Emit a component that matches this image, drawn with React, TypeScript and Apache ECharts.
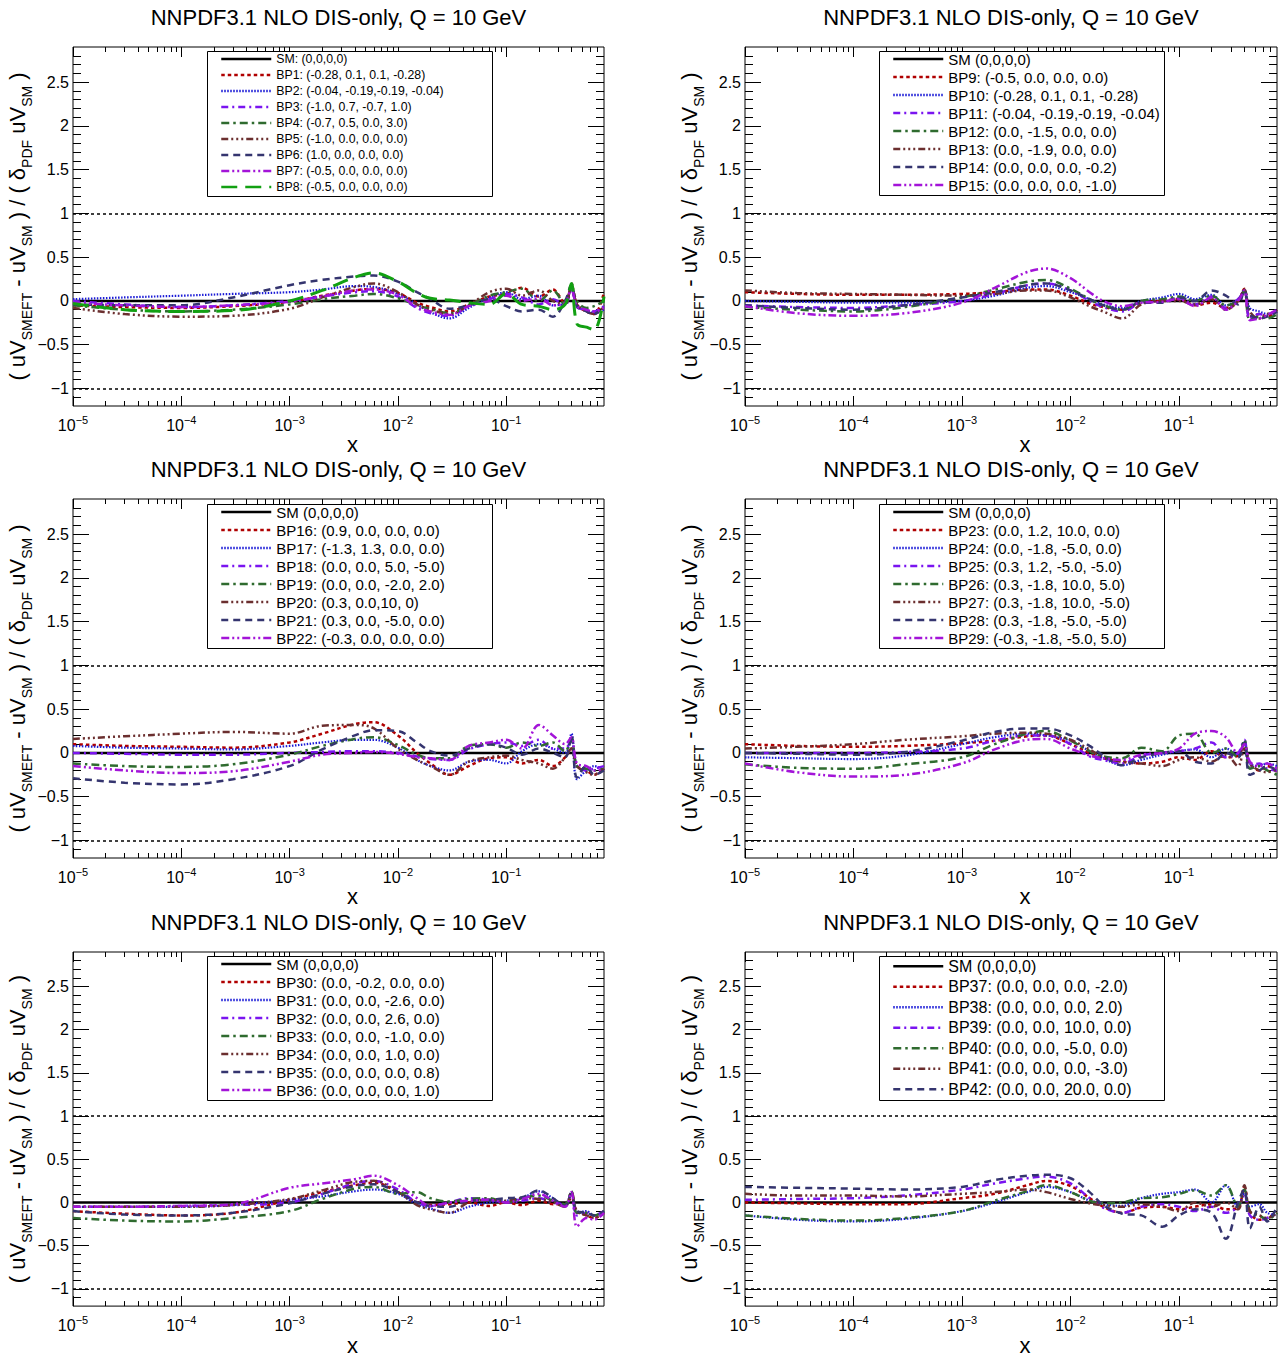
import React, { useEffect, useRef } from "react";
import * as echarts from "echarts";

const FONT = "'Liberation Sans', Arial, Helvetica, sans-serif";

// ---------- data ----------
const X_VALUES = [1e-5, 3e-5, 1e-4, 3e-4, 1e-3, 2e-3, 4e-3, 6e-3, 1e-2, 1.5e-2, 2e-2, 3e-2, 4.5e-2, 7e-2, 0.1, 0.14, 0.2, 0.27, 0.35, 0.4, 0.45, 0.55, 0.65, 0.8];
const X_MIN = 1e-5;
const X_MAX = 0.8;
const Y_MIN = -1.2;
const Y_MAX = 2.9;
const X_DECADES = [-5, -4, -3, -2, -1];
const Y_MAJOR = [-1, -0.5, 0, 0.5, 1, 1.5, 2, 2.5];
const REF_LINES = [1, -1];
const TITLE = "NNPDF3.1 NLO DIS-only, Q = 10 GeV";

const SM_VALUES = [0, 0, 0, 0, 0, 0, 0, 0, 0, 0, 0, 0, 0, 0, 0, 0, 0, 0, 0, 0, 0, 0, 0, 0];

const P1_LABELS = ["SM: (0,0,0,0)", "BP1: (-0.28, 0.1, 0.1, -0.28)", "BP2: (-0.04, -0.19,-0.19, -0.04)", "BP3: (-1.0, 0.7, -0.7, 1.0)", "BP4: (-0.7, 0.5, 0.0, 3.0)", "BP5: (-1.0, 0.0, 0.0, 0.0)", "BP6: (1.0, 0.0, 0.0, 0.0)", "BP7: (-0.5, 0.0, 0.0, 0.0)", "BP8: (-0.5, 0.0, 0.0, 0.0)"];
const P1_BP1 = [-0.05, -0.07, -0.08, -0.06, -0.01, 0.06, 0.12, 0.14, 0.09, -0.02, -0.07, -0.12, -0.04, 0.05, 0.08, 0.15, 0.05, 0.13, -0.03, 0.18, -0.04, -0.12, -0.15, 0.1];
const P1_BP2 = [0.02, 0.04, 0.06, 0.08, 0.1, 0.13, 0.17, 0.16, 0.08, -0.04, -0.13, -0.2, -0.08, 0.04, 0.1, 0.02, 0.06, -0.05, -0.02, 0.14, -0.05, -0.1, -0.14, -0.1];
const P1_BP3 = [0.0, -0.04, -0.07, -0.05, 0.0, 0.05, 0.1, 0.11, 0.05, -0.08, -0.14, -0.17, -0.06, 0.02, 0.08, 0.04, -0.04, 0.02, -0.05, 0.14, -0.07, -0.1, -0.12, -0.06];
const P1_BP4 = [-0.05, -0.1, -0.12, -0.1, -0.04, 0.02, 0.06, 0.08, 0.03, -0.05, -0.09, -0.14, -0.05, 0.06, 0.1, 0.14, 0.0, 0.12, -0.04, 0.15, 0.0, -0.08, -0.06, 0.0];
const P1_BP5 = [-0.08, -0.15, -0.18, -0.17, -0.09, 0.04, 0.16, 0.2, 0.1, -0.04, -0.1, -0.15, -0.05, 0.1, 0.14, 0.06, 0.12, 0.0, -0.04, 0.2, -0.04, -0.12, -0.15, -0.06];
const P1_BP6 = [-0.04, -0.05, -0.05, 0.04, 0.18, 0.24, 0.28, 0.29, 0.22, 0.1, 0.02, -0.09, -0.05, 0.02, -0.06, -0.12, -0.1, -0.18, 0.0, 0.18, -0.06, -0.12, -0.15, -0.05];
const P1_BP7 = [-0.02, -0.05, -0.07, -0.05, -0.01, 0.05, 0.12, 0.13, 0.07, -0.07, -0.12, -0.16, -0.06, 0.0, 0.06, 0.0, 0.03, -0.05, -0.02, 0.14, -0.06, -0.1, -0.12, -0.08];
const P1_BP8 = [-0.03, -0.1, -0.12, -0.11, 0.0, 0.12, 0.27, 0.32, 0.22, 0.09, 0.03, 0.01, -0.02, -0.04, 0.08, -0.04, -0.06, -0.1, -0.04, 0.2, -0.26, -0.3, -0.33, 0.05];

const P2_LABELS = ["SM (0,0,0,0)", "BP9: (-0.5, 0.0, 0.0, 0.0)", "BP10: (-0.28, 0.1, 0.1, -0.28)", "BP11: (-0.04, -0.19,-0.19, -0.04)", "BP12: (0.0, -1.5, 0.0, 0.0)", "BP13: (0.0, -1.9, 0.0, 0.0)", "BP14: (0.0, 0.0, 0.0, -0.2)", "BP15: (0.0, 0.0, 0.0, -1.0)"];
const P2_BP9 = [0.1, 0.08, 0.07, 0.07, 0.08, 0.1, 0.13, 0.13, 0.06, -0.03, -0.07, -0.1, -0.02, 0.0, 0.02, -0.05, -0.02, -0.08, 0.0, 0.14, -0.18, -0.15, -0.18, -0.1];
const P2_BP10 = [0.0, -0.01, -0.02, -0.02, 0.0, 0.06, 0.15, 0.17, 0.1, 0.02, -0.04, -0.08, 0.0, 0.04, 0.08, 0.02, 0.07, -0.05, 0.02, 0.12, -0.08, -0.12, -0.15, -0.1];
const P2_BP11 = [-0.05, -0.07, -0.08, -0.05, 0.0, 0.08, 0.18, 0.2, 0.12, 0.0, -0.07, -0.12, -0.02, 0.0, 0.03, -0.04, 0.05, -0.08, 0.02, 0.12, -0.2, -0.15, -0.17, -0.12];
const P2_BP12 = [-0.07, -0.1, -0.12, -0.07, 0.04, 0.13, 0.22, 0.24, 0.14, 0.02, -0.05, -0.1, 0.0, 0.02, 0.05, 0.0, 0.06, -0.05, 0.0, 0.12, -0.22, -0.18, -0.2, -0.15];
const P2_BP13 = [0.12, 0.09, 0.08, 0.07, 0.06, 0.08, 0.12, 0.12, 0.04, -0.06, -0.12, -0.2, -0.04, 0.0, 0.0, -0.04, 0.02, -0.1, 0.0, 0.13, -0.12, -0.2, -0.15, -0.12];
const P2_BP14 = [-0.05, -0.08, -0.1, -0.05, 0.04, 0.1, 0.18, 0.2, 0.12, 0.02, -0.05, -0.1, -0.02, -0.02, 0.04, 0.0, 0.12, 0.06, -0.04, 0.12, -0.15, -0.2, -0.18, -0.12];
const P2_BP15 = [-0.06, -0.14, -0.17, -0.14, -0.02, 0.15, 0.33, 0.37, 0.26, 0.1, 0.0, -0.06, -0.02, -0.01, 0.02, -0.06, 0.04, -0.1, 0.0, 0.12, -0.22, -0.2, -0.16, -0.1];

const P3_LABELS = ["SM (0,0,0,0)", "BP16: (0.9, 0.0, 0.0, 0.0)", "BP17: (-1.3, 1.3, 0.0, 0.0)", "BP18: (0.0, 0.0, 5.0, -5.0)", "BP19: (0.0, 0.0, -2.0, 2.0)", "BP20: (0.3, 0.0,10, 0)", "BP21: (0.3, 0.0, -5.0, 0.0)", "BP22: (-0.3, 0.0, 0.0, 0.0)"];
const P3_BP16 = [0.1, 0.08, 0.07, 0.06, 0.12, 0.22, 0.33, 0.35, 0.2, 0.0, -0.12, -0.25, -0.15, -0.06, -0.05, -0.12, -0.08, -0.15, -0.05, 0.05, -0.15, -0.2, -0.25, -0.15];
const P3_BP17 = [0.08, 0.06, 0.05, 0.04, 0.08, 0.12, 0.15, 0.15, 0.06, -0.08, -0.15, -0.2, -0.1, -0.08, -0.12, 0.02, 0.1, 0.05, 0.0, 0.22, -0.3, -0.2, -0.15, -0.2];
const P3_BP18 = [0.0, -0.01, -0.02, -0.02, 0.0, 0.01, 0.02, 0.02, 0.0, -0.04, -0.07, -0.08, 0.04, 0.1, 0.12, 0.08, 0.15, 0.05, 0.05, 0.15, -0.15, -0.2, -0.18, -0.15];
const P3_BP19 = [-0.12, -0.15, -0.16, -0.13, -0.02, 0.08, 0.16, 0.18, 0.09, -0.02, -0.06, -0.06, 0.08, 0.1, 0.06, 0.12, 0.08, 0.12, 0.02, 0.15, -0.15, -0.18, -0.2, -0.18];
const P3_BP20 = [0.16, 0.19, 0.22, 0.24, 0.22, 0.31, 0.32, 0.28, 0.05, -0.08, -0.15, -0.25, -0.1, -0.05, -0.03, -0.08, -0.12, -0.18, -0.05, 0.05, -0.15, -0.22, -0.25, -0.18];
const P3_BP21 = [-0.29, -0.34, -0.36, -0.3, -0.15, 0.04, 0.2, 0.26, 0.25, 0.12, 0.02, -0.03, 0.05, 0.1, 0.06, -0.02, 0.05, 0.0, -0.05, 0.2, -0.28, -0.15, -0.25, -0.2];
const P3_BP22 = [-0.15, -0.2, -0.23, -0.21, -0.1, -0.02, 0.0, 0.01, -0.01, -0.05, -0.06, -0.08, 0.08, 0.12, 0.15, 0.05, 0.32, 0.2, 0.1, 0.18, -0.12, -0.15, -0.2, -0.18];

const P4_LABELS = ["SM (0,0,0,0)", "BP23: (0.0, 1.2, 10.0, 0.0)", "BP24: (0.0, -1.8, -5.0, 0.0)", "BP25: (0.3, 1.2, -5.0, -5.0)", "BP26: (0.3, -1.8, 10.0, 5.0)", "BP27: (0.3, -1.8, 10.0, -5.0)", "BP28: (0.3, -1.8, -5.0, -5.0)", "BP29: (-0.3, -1.8, -5.0, 5.0)"];
const P4_BP23 = [0.1, 0.08, 0.07, 0.08, 0.11, 0.14, 0.19, 0.2, 0.1, 0.0, -0.06, -0.1, -0.12, -0.1, -0.05, -0.08, 0.02, -0.05, -0.03, 0.1, -0.12, -0.2, -0.15, -0.22];
const P4_BP24 = [-0.05, -0.06, -0.07, -0.03, 0.1, 0.18, 0.22, 0.2, 0.14, 0.02, -0.06, -0.14, -0.08, -0.02, 0.02, 0.04, -0.05, 0.05, -0.02, 0.12, -0.12, -0.15, -0.12, -0.15];
const P4_BP25 = [0.0, 0.0, 0.0, 0.01, 0.05, 0.14, 0.2, 0.2, 0.1, -0.04, -0.08, -0.12, -0.03, 0.0, 0.02, 0.05, 0.12, -0.05, 0.0, 0.15, -0.15, -0.12, -0.18, -0.2];
const P4_BP26 = [-0.13, -0.17, -0.18, -0.13, -0.05, 0.1, 0.22, 0.25, 0.14, 0.02, -0.04, -0.06, 0.06, 0.02, 0.2, 0.22, 0.0, 0.05, -0.05, 0.15, -0.18, -0.15, -0.2, -0.25];
const P4_BP27 = [0.05, 0.07, 0.1, 0.15, 0.19, 0.22, 0.23, 0.22, 0.15, 0.04, -0.05, -0.1, -0.12, -0.15, -0.08, -0.05, -0.1, -0.02, -0.15, 0.05, -0.12, -0.2, -0.22, -0.18];
const P4_BP28 = [0.0, -0.01, -0.02, 0.01, 0.14, 0.24, 0.28, 0.28, 0.2, 0.08, -0.03, -0.14, -0.05, 0.0, 0.02, -0.1, -0.12, 0.0, -0.05, 0.12, -0.25, -0.2, -0.15, -0.2];
const P4_BP29 = [-0.12, -0.22, -0.27, -0.25, -0.12, 0.04, 0.15, 0.16, 0.05, -0.03, -0.06, -0.08, -0.02, 0.0, 0.05, 0.22, 0.25, 0.18, 0.0, 0.1, -0.1, -0.15, -0.12, -0.18];

const P5_LABELS = ["SM (0,0,0,0)", "BP30: (0.0, -0.2, 0.0, 0.0)", "BP31: (0.0, 0.0, -2.6, 0.0)", "BP32: (0.0, 0.0, 2.6, 0.0)", "BP33: (0.0, 0.0, -1.0, 0.0)", "BP34: (0.0, 0.0, 1.0, 0.0)", "BP35: (0.0, 0.0, 0.0, 0.8)", "BP36: (0.0, 0.0, 0.0, 1.0)"];
const P5_BP30 = [-0.1, -0.13, -0.15, -0.12, 0.03, 0.12, 0.2, 0.23, 0.12, 0.0, -0.03, -0.02, 0.0, -0.04, 0.0, -0.03, 0.02, -0.02, -0.02, 0.05, -0.1, -0.15, -0.18, -0.12];
const P5_BP31 = [-0.05, -0.05, -0.05, -0.03, 0.03, 0.07, 0.13, 0.15, 0.1, -0.02, -0.07, -0.12, -0.05, 0.0, 0.02, 0.05, 0.13, 0.05, -0.05, 0.12, -0.12, -0.1, -0.15, -0.12];
const P5_BP32 = [-0.05, -0.05, -0.04, -0.03, 0.0, 0.1, 0.22, 0.25, 0.15, 0.0, -0.04, 0.0, 0.05, 0.03, 0.0, 0.02, 0.05, 0.0, -0.02, 0.1, -0.15, -0.12, -0.15, -0.1];
const P5_BP33 = [-0.18, -0.21, -0.22, -0.18, -0.1, 0.04, 0.16, 0.18, 0.1, 0.12, 0.05, 0.01, 0.04, 0.05, 0.0, 0.05, 0.08, 0.02, -0.02, 0.13, -0.12, -0.12, -0.15, -0.1];
const P5_BP34 = [-0.05, -0.05, -0.05, -0.03, 0.04, 0.14, 0.24, 0.25, 0.12, -0.03, -0.08, -0.12, 0.0, 0.03, 0.02, 0.05, 0.04, 0.0, -0.05, 0.12, -0.1, -0.15, -0.18, -0.12];
const P5_BP35 = [-0.1, -0.14, -0.15, -0.12, -0.01, 0.1, 0.19, 0.21, 0.12, 0.0, -0.04, -0.05, 0.02, 0.03, 0.05, 0.06, 0.14, 0.05, -0.04, 0.1, -0.1, -0.12, -0.15, -0.1];
const P5_BP36 = [-0.05, -0.05, -0.04, -0.02, 0.17, 0.22, 0.27, 0.31, 0.2, 0.05, -0.04, 0.0, 0.02, 0.03, 0.0, 0.04, 0.1, 0.02, -0.05, 0.12, -0.28, -0.18, -0.2, -0.12];

const P6_LABELS = ["SM (0,0,0,0)", "BP37: (0.0, 0.0, 0.0, -2.0)", "BP38: (0.0, 0.0, 0.0, 2.0)", "BP39: (0.0, 0.0, 10.0, 0.0)", "BP40: (0.0, 0.0, -5.0, 0.0)", "BP41: (0.0, 0.0, 0.0, -3.0)", "BP42: (0.0, 0.0, 20.0, 0.0)"];
const P6_BP37 = [0.0, -0.01, -0.02, -0.02, 0.05, 0.1, 0.2, 0.25, 0.19, 0.05, -0.05, -0.12, -0.06, -0.05, -0.08, -0.05, -0.02, -0.08, -0.06, 0.18, -0.12, -0.2, -0.18, -0.12];
const P6_BP38 = [-0.15, -0.2, -0.22, -0.19, -0.1, 0.0, 0.12, 0.18, 0.12, 0.02, -0.02, -0.04, 0.05, 0.1, 0.12, 0.15, 0.0, 0.2, -0.05, 0.1, -0.05, -0.02, -0.12, -0.15];
const P6_BP39 = [0.03, 0.04, 0.05, 0.08, 0.15, 0.22, 0.28, 0.3, 0.22, 0.05, -0.06, -0.12, -0.05, -0.02, -0.05, -0.1, -0.05, -0.12, -0.05, 0.1, -0.15, -0.2, -0.18, -0.1];
const P6_BP40 = [-0.15, -0.19, -0.21, -0.18, -0.1, 0.02, 0.13, 0.2, 0.12, 0.02, -0.01, 0.0, 0.05, 0.06, 0.1, 0.14, 0.08, 0.2, -0.05, 0.15, -0.1, -0.15, -0.2, -0.12];
const P6_BP41 = [0.1, 0.08, 0.08, 0.07, 0.1, 0.12, 0.15, 0.12, 0.04, -0.01, -0.03, -0.05, -0.02, -0.05, -0.1, 0.0, -0.05, 0.0, -0.08, 0.2, -0.1, -0.15, -0.18, -0.12];
const P6_BP42 = [0.18, 0.17, 0.16, 0.15, 0.18, 0.26, 0.31, 0.32, 0.28, 0.12, -0.03, -0.13, -0.15, -0.28, -0.15, -0.08, -0.12, -0.42, 0.0, 0.15, -0.3, -0.05, -0.22, -0.05];

const PANELS = [
  { labels: P1_LABELS, values: [SM_VALUES, P1_BP1, P1_BP2, P1_BP3, P1_BP4, P1_BP5, P1_BP6, P1_BP7, P1_BP8] },
  { labels: P2_LABELS, values: [SM_VALUES, P2_BP9, P2_BP10, P2_BP11, P2_BP12, P2_BP13, P2_BP14, P2_BP15] },
  { labels: P3_LABELS, values: [SM_VALUES, P3_BP16, P3_BP17, P3_BP18, P3_BP19, P3_BP20, P3_BP21, P3_BP22] },
  { labels: P4_LABELS, values: [SM_VALUES, P4_BP23, P4_BP24, P4_BP25, P4_BP26, P4_BP27, P4_BP28, P4_BP29] },
  { labels: P5_LABELS, values: [SM_VALUES, P5_BP30, P5_BP31, P5_BP32, P5_BP33, P5_BP34, P5_BP35, P5_BP36] },
  { labels: P6_LABELS, values: [SM_VALUES, P6_BP37, P6_BP38, P6_BP39, P6_BP40, P6_BP41, P6_BP42] },
];

// ---------- styles / layout ----------
const STYLES = [
  { color: "#000000", width: 2.5, dash: "solid" as any },
  { color: "#b00000", width: 2.5, dash: [3.5, 3] },
  { color: "#1a1ad6", width: 2.2, dash: [1.5, 1.5] },
  { color: "#7a14f0", width: 2.5, dash: [7, 4, 2, 4] },
  { color: "#2f6b2f", width: 2.5, dash: [8, 4, 2.5, 4] },
  { color: "#6b2f2f", width: 2.5, dash: [7, 3, 2, 3, 2, 3, 2, 3] },
  { color: "#35356f", width: 2.5, dash: [7, 5] },
  { color: "#a314d8", width: 2.5, dash: [8, 3, 2, 3, 2, 3] },
  { color: "#12a012", width: 3, dash: [16, 8] },
];

const GRID_LEFT = [73, 745];
const GRID_WIDTH = [531, 532];
const GRID_TOP = [47, 499, 952];
const GRID_HEIGHT = 359;

const LEGENDS = [
  { left: 220, top: 51, spacing: 16, fontSize: 12.3, box: [207, 51, 285, 145] },
  { left: 892, top: 50, spacing: 18, fontSize: 15, box: [879, 51, 285, 144] },
  { left: 220, top: 503, spacing: 18, fontSize: 15, box: [207, 504, 285, 144] },
  { left: 892, top: 503, spacing: 18, fontSize: 15, box: [879, 504, 285, 144] },
  { left: 220, top: 955, spacing: 18, fontSize: 15, box: [207, 956, 285, 144] },
  { left: 892, top: 956, spacing: 20.5, fontSize: 16, box: [879, 956, 285, 144] },
];

const LX_MIN = Math.log10(X_MIN);
const LX_MAX = Math.log10(X_MAX);

const X_MINOR: number[] = [];
X_DECADES.forEach((n) => {
  for (let k = 2; k <= 9; k++) {
    const v = n + Math.log10(k);
    if (v < LX_MAX - 1e-9) X_MINOR.push(v);
  }
});
const Y_MINOR: number[] = [];
for (let k = -11; k <= 28; k++) Y_MINOR.push(k / 10);

const fmtMinus = (v: number) => (v < 0 ? "\u2212" : "") + String(Math.abs(v));

function buildOption() {
  const grid: any[] = [];
  const xAxis: any[] = [];
  const yAxis: any[] = [];
  const series: any[] = [];
  const legend: any[] = [];
  const graphic: any[] = [];

  PANELS.forEach((p, i) => {
    const col = i % 2;
    const row = Math.floor(i / 2);
    const left = GRID_LEFT[col];
    const width = GRID_WIDTH[col];
    const top = GRID_TOP[row];
    grid.push({ left, top, width, height: GRID_HEIGHT, show: true, borderColor: "#000", borderWidth: 1, backgroundColor: "transparent" });
    const xb = xAxis.length;
    const yb = yAxis.length;

    const mkX = (pos: string, ticks: number[], len: number, withLabel: boolean) => ({
      type: "value",
      gridIndex: i,
      position: pos,
      min: LX_MIN,
      max: LX_MAX,
      axisLine: { show: false, onZero: false },
      axisTick: { show: true, inside: true, length: len, customValues: ticks, lineStyle: { color: "#000", width: 1 } },
      axisLabel: withLabel
        ? {
            show: true,
            customValues: X_DECADES,
            margin: 8,
            formatter: (v: number) => {
              const n = Math.round(v);
              return "{b|10}{e|" + fmtMinus(n) + "}";
            },
            rich: {
              b: { fontSize: 16, fontFamily: FONT, color: "#000", lineHeight: 19, verticalAlign: "bottom" },
              e: { fontSize: 11, fontFamily: FONT, color: "#000", lineHeight: 11, verticalAlign: "top" },
            },
          }
        : { show: false },
      splitLine: { show: false },
      name: withLabel ? "x" : "",
      nameLocation: "middle",
      nameGap: 24,
      nameTextStyle: { fontSize: 22, fontFamily: FONT, color: "#000", padding: [0, 0, 0, 28] },
    });
    xAxis.push(mkX("bottom", X_DECADES, 10, true));
    xAxis.push(mkX("bottom", X_MINOR, 5, false));
    xAxis.push(mkX("top", X_DECADES, 10, false));
    xAxis.push(mkX("top", X_MINOR, 5, false));

    const mkY = (pos: string, ticks: number[], len: number, withLabel: boolean) => ({
      type: "value",
      gridIndex: i,
      position: pos,
      min: Y_MIN,
      max: Y_MAX,
      axisLine: { show: false, onZero: false },
      axisTick: { show: true, inside: true, length: len, customValues: ticks, lineStyle: { color: "#000", width: 1 } },
      axisLabel: withLabel
        ? { show: true, customValues: Y_MAJOR, margin: 4, fontSize: 16, fontFamily: FONT, color: "#000", formatter: (v: number) => fmtMinus(v) }
        : { show: false },
      splitLine: { show: false },
      name: withLabel ? "{m|( uV}{s|SMEFT}{m| - uV}{s|SM}{m| ) / ( \u03b4}{s|PDF}{m| uV}{s|SM}{m| )}" : "",
      nameLocation: "middle",
      nameRotate: 90,
      nameGap: 34,
      nameTextStyle: {
        fontSize: 22,
        fontFamily: FONT,
        color: "#000",
        rich: {
          m: { fontSize: 22, fontFamily: FONT, color: "#000", lineHeight: 24, verticalAlign: "top" },
          s: { fontSize: 14, fontFamily: FONT, color: "#000", lineHeight: 14, padding: [13, 0, 0, 0], verticalAlign: "top" },
        },
      },
    });
    yAxis.push(mkY("left", Y_MAJOR, 16, true));
    yAxis.push(mkY("left", Y_MINOR, 8, false));
    yAxis.push(mkY("right", Y_MAJOR, 16, false));
    yAxis.push(mkY("right", Y_MINOR, 8, false));

    p.values.forEach((vals, j) => {
      const st = STYLES[j];
      const s: any = {
        type: "line",
        name: p.labels[j],
        xAxisIndex: xb,
        yAxisIndex: yb,
        data: X_VALUES.map((x, k) => [Math.log10(x), vals[k]]),
        symbol: "none",
        showSymbol: false,
        smooth: j === 0 ? false : 0.35,
        clip: true,
        silent: true,
        lineStyle: { color: st.color, width: st.width, type: st.dash },
        itemStyle: { color: st.color },
        z: 2,
      };
      if (j === 0) {
        s.markLine = {
          silent: true,
          symbol: ["none", "none"],
          label: { show: false },
          lineStyle: { color: "#000", type: [3, 3], width: 1.5 },
          data: REF_LINES.map((v) => ({ yAxis: v })),
        };
      }
      series.push(s);
    });

    const L = LEGENDS[i];
    legend.push({
      orient: "vertical",
      left: L.left,
      top: L.top,
      padding: 0,
      itemGap: 0,
      itemWidth: 50,
      itemHeight: 10,
      selectedMode: false,
      z: 20,
      data: p.labels,
      textStyle: { fontSize: L.fontSize, lineHeight: L.spacing, color: "#000", fontFamily: FONT },
      lineStyle: { width: 2.5 },
      itemStyle: { opacity: 0 },
    });
    graphic.push({
      type: "rect",
      z: 10,
      shape: { x: L.box[0] + 0.5, y: L.box[1] + 0.5, width: L.box[2], height: L.box[3] },
      style: { fill: "#fff", stroke: "#000", lineWidth: 1 },
    });
    graphic.push({
      type: "text",
      z: 10,
      x: left + width / 2,
      y: top - 30,
      style: { text: TITLE, fontSize: 22, fontFamily: FONT, fill: "#000", align: "center", verticalAlign: "middle" },
    });
  });

  return { animation: false, backgroundColor: "#fff", grid, xAxis, yAxis, series, legend, graphic };
}

export default function App() {
  const ref = useRef<HTMLDivElement>(null);
  useEffect(() => {
    if (!ref.current) return;
    const chart = echarts.init(ref.current, undefined, { renderer: "svg" });
    chart.setOption(buildOption() as any);
    return () => chart.dispose();
  }, []);
  return <div ref={ref} style={{ position: "absolute", left: 0, top: 0, width: 1288, height: 1357, background: "#fff" }} />;
}
